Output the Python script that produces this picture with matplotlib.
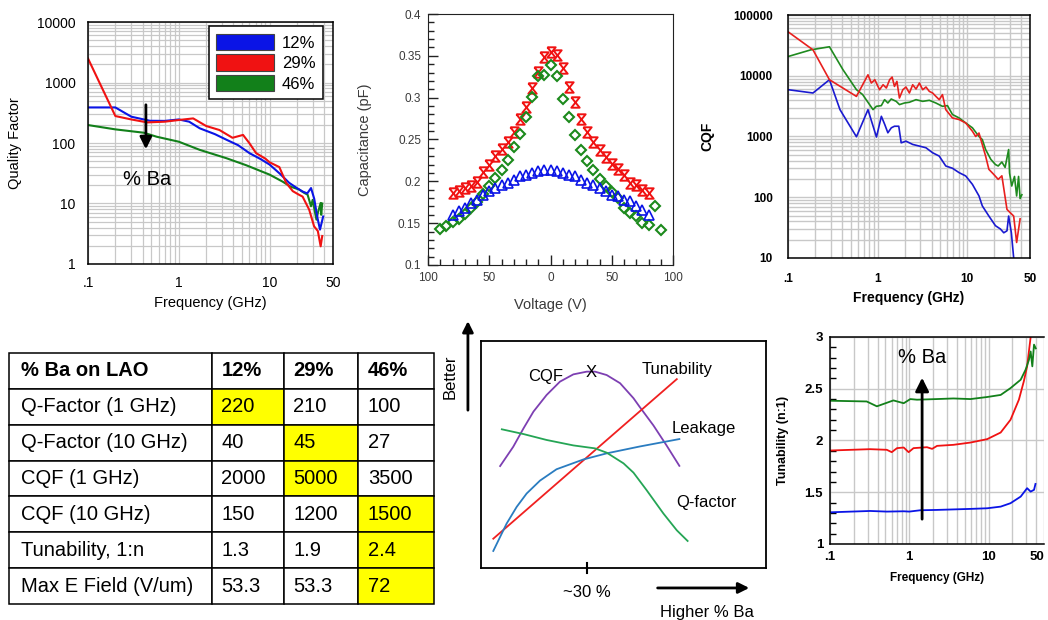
import matplotlib
matplotlib.use('Agg')
import matplotlib.pyplot as plt
import matplotlib.transforms as mtransforms
import numpy as np
from matplotlib.patches import Patch
from matplotlib.ticker import LogLocator, NullFormatter, MultipleLocator

plt.rcParams['font.family'] = ['Liberation Sans', 'DejaVu Sans']

BLUE = '#0a14e6'
RED = '#f01212'
GREEN = '#12801a'

# frequency axis used by the three log-log / semilog panels
freq_ticks = [0.1, 1, 10, 50]
freq_labels = ['.1', '1', '10', '50']
ba_labels = ['12%', '29%', '46%']

# Quality factor vs frequency
freq_q12 = [0.1, 0.2, 0.3, 0.48, 0.7, 1.0, 1.3, 1.7, 2.5, 3.4, 4.5, 6.0, 8.0, 10,
            13, 16.4, 20, 23, 26, 28.6, 31, 33.5, 35.9, 38.9]
q12 = [387, 387, 272, 233, 232, 245, 225, 175, 140, 112, 92, 68, 54, 44,
       31, 22, 18, 15.8, 14.7, 18, 12, 6, 3.7, 6.1]
freq_q29 = [0.1, 0.2, 0.3, 0.45, 0.7, 1.0, 1.44, 2.0, 2.8, 3.9, 5.1, 6.0, 7.1, 9.0,
            10, 12.8, 15.2, 18, 21, 23.1, 27.3, 30.9, 34, 36.5, 38]
q29 = [2490, 279, 245, 219, 225, 240, 255, 191, 164, 122, 136, 99, 68, 55,
       48, 40, 22, 16, 14, 13, 7.9, 4.2, 3.5, 1.96, 2.9]
freq_q46 = [0.1, 0.2, 0.41, 0.57, 1.0, 1.7, 3.35, 5.5, 10, 13.9, 17, 21.2, 24,
            26.2, 28.6, 29.8, 32.8, 34, 36.5, 37, 38]
q46 = [198, 168, 148, 127, 105, 77, 56, 43, 30, 23, 19, 17, 15,
       14, 9, 11.5, 5.4, 7, 10.2, 6.5, 10]

# C-V curves (voltage magnitude shown on both sides of zero)
volt_red = [-80, -75, -70, -65, -60, -55, -50, -45, -40, -35, -30, -25, -20, -15, -10, -5, 0,
            5, 10, 15, 20, 25, 30, 35, 40, 45, 50, 55, 60, 65, 70, 75, 80]
cap_red = [0.186, 0.188, 0.192, 0.195, 0.199, 0.211, 0.220, 0.230, 0.239, 0.247, 0.259,
           0.275, 0.289, 0.311, 0.331, 0.349, 0.354, 0.351, 0.335, 0.313, 0.295, 0.275,
           0.259, 0.247, 0.237, 0.229, 0.221, 0.215, 0.207, 0.198, 0.196, 0.190, 0.186]
volt_green = [-90, -85, -80, -75, -70, -65, -60, -55, -50, -45, -40, -35, -30, -25, -20,
              -15, -10, -5, 0, 5, 10, 15, 20, 25, 30, 35, 40, 45, 50, 55, 60, 65, 70,
              75, 80, 85, 90]
cap_green = [0.143, 0.147, 0.151, 0.155, 0.161, 0.168, 0.175, 0.185, 0.194, 0.204, 0.214,
             0.225, 0.241, 0.257, 0.277, 0.301, 0.326, 0.327, 0.339, 0.326, 0.299, 0.277,
             0.255, 0.237, 0.224, 0.214, 0.203, 0.195, 0.187, 0.180, 0.168, 0.162, 0.158,
             0.150, 0.148, 0.170, 0.142]
volt_blue = volt_red
cap_blue = [0.160, 0.164, 0.168, 0.174, 0.178, 0.184, 0.188, 0.192, 0.196, 0.198, 0.202,
            0.206, 0.208, 0.210, 0.212, 0.213, 0.213, 0.212, 0.210, 0.208, 0.206, 0.202,
            0.198, 0.196, 0.192, 0.188, 0.184, 0.182, 0.178, 0.176, 0.170, 0.166, 0.160]

# CQF vs frequency
freq_c12 = [0.1, 0.19, 0.29, 0.38, 0.58, 0.78, 0.97, 1.1, 1.2, 1.3, 1.42, 1.54, 1.72,
            1.83, 2.07, 2.46, 2.92, 3.46, 4.1, 4.86, 5.75, 6.83, 8.1, 9.6, 11.4, 13.5,
            14.7, 17.4, 20.6, 23.4, 25.5, 27.7, 28.9, 31.0, 32.9]
cqf12 = [5900, 5200, 8600, 2770, 990, 2760, 980, 2150, 1575, 1150, 1390, 1475, 1475,
         787, 838, 740, 695, 652, 540, 476, 327, 300, 254, 224, 163, 105,
         72, 49, 34, 30, 26, 28, 49, 26, 10]
freq_c29 = [0.1, 0.19, 0.29, 0.58, 0.78, 0.85, 0.93, 1.05, 1.15, 1.25, 1.36, 1.45, 1.54,
            1.64, 1.75, 1.91, 2.07, 2.26, 2.46, 2.68, 2.92, 3.18, 3.46, 3.77, 4.10, 4.46,
            4.86, 5.28, 5.75, 6.83, 8.1, 9.6, 11.4, 12.4, 13.5, 16.0, 17.4, 19.7, 22.1,
            24.3, 27.7, 30.0, 32.9, 35.5, 38.8]
cqf29 = [53000, 26700, 8600, 4570, 10370, 7590, 8600, 5890, 7110, 6280, 8600, 9510, 6680,
         8070, 4300, 5890, 6520, 5200, 7110, 6040, 7590, 5890, 6520, 5530, 5200, 4580,
         4040, 4890, 2770, 2020, 1900, 1670, 1220, 1000, 1140, 476, 288, 238, 197,
         225, 63, 56, 49, 18, 44]
freq_c46 = [0.1, 0.18, 0.29, 0.41, 0.58, 0.68, 0.888, 0.967, 1.098, 1.195, 1.30, 1.417,
            1.61, 1.752, 1.99, 2.26, 2.68, 3.18, 3.77, 4.46, 5.28, 6.01, 6.83, 8.1, 9.6,
            11.4, 13.5, 14.7, 16.0, 18.3, 20.6, 22.1, 24.3, 26.4, 28.9, 29.6, 31.3, 33.6,
            35.5, 37.3, 38.8, 40.6]
cqf46 = [20700, 26700, 30000, 12600, 5900, 4900, 2770, 3140, 3220, 4040, 3560, 4140,
         3790, 3350, 3560, 3660, 4040, 3790, 3940, 3560, 3140, 3220, 2300, 2020, 1670,
         1390, 1000, 890, 610, 420, 345, 327, 380, 310, 610, 250, 153, 220,
         105, 220, 95, 110]

# Tunability vs frequency
freq_t12 = [0.1, 0.32, 0.52, 0.85, 1.0, 1.38, 2.2, 5.9, 9.6, 14.2, 18.9, 25.4, 30.6,
            33.9, 37.4, 39]
tun12 = [1.306, 1.319, 1.313, 1.316, 1.313, 1.326, 1.329, 1.339, 1.345, 1.361, 1.394,
         1.458, 1.539, 1.506, 1.523, 1.58]
freq_t29 = [0.1, 0.32, 0.52, 0.6, 0.7, 0.85, 0.98, 1.13, 1.67, 1.94, 2.24, 3.6, 5.9,
            9.6, 14.2, 18.9, 24.1, 27.8, 30.6, 33.2, 34.5]
tun29 = [1.903, 1.916, 1.91, 1.887, 1.926, 1.932, 1.887, 1.926, 1.935, 1.919, 1.948,
         1.958, 1.98, 2.013, 2.077, 2.2, 2.394, 2.571, 2.716, 2.94, 3.05]
freq_t46 = [0.1, 0.29, 0.39, 0.63, 0.85, 1.03, 1.25, 2.2, 3.6, 5.9, 9.6, 14.2, 18.9,
            25.4, 29.3, 32.3, 33.9, 35.6, 37.4, 39.3]
tun46 = [2.384, 2.377, 2.33, 2.387, 2.36, 2.40, 2.394, 2.40, 2.406, 2.40, 2.42, 2.44,
         2.506, 2.587, 2.684, 2.78, 2.86, 2.716, 2.926, 2.89]

# summary table
table_header = ['% Ba on LAO', '12%', '29%', '46%']
table_rows = ['Q-Factor (1 GHz)', 'Q-Factor (10 GHz)', 'CQF (1 GHz)', 'CQF (10 GHz)',
              'Tunability, 1:n', 'Max E Field (V/um)']
table_values = [['220', '210', '100'],
                ['40', '45', '27'],
                ['2000', '5000', '3500'],
                ['150', '1200', '1500'],
                ['1.3', '1.9', '2.4'],
                ['53.3', '53.3', '72']]
best_cells = [(1, 1), (2, 2), (3, 2), (4, 3), (5, 3), (6, 3)]

# trade-off sketch (relative units)
cqf_x = [0.067, 0.113, 0.149, 0.184, 0.230, 0.277, 0.324, 0.371, 0.400, 0.441, 0.488,
         0.535, 0.556, 0.605, 0.651, 0.696]
cqf_y = [0.449, 0.534, 0.615, 0.689, 0.762, 0.821, 0.853, 0.865, 0.865, 0.850, 0.814,
         0.748, 0.711, 0.628, 0.540, 0.450]
tun_x = [0.043, 0.687]
tun_y = [0.129, 0.832]
leak_x = [0.043, 0.067, 0.090, 0.125, 0.160, 0.207, 0.265, 0.359, 0.441, 0.556, 0.696]
leak_y = [0.075, 0.137, 0.196, 0.269, 0.328, 0.385, 0.435, 0.478, 0.505, 0.535, 0.568]
qf_x = [0.073, 0.149, 0.230, 0.324, 0.400, 0.441, 0.500, 0.535, 0.581, 0.640, 0.687, 0.725]
qf_y = [0.611, 0.590, 0.564, 0.540, 0.527, 0.508, 0.461, 0.420, 0.343, 0.240, 0.166, 0.119]
optimum_x = 0.372
peak_mark = (0.386, 0.862)

fig = plt.figure(figsize=(10.48, 6.2), dpi=100)


def freq_axes(rect, ylim, yticks, ylabels, bold):
    ax = fig.add_axes(rect)
    ax.set_xscale('log')
    ax.set_yscale('log')
    ax.set_xlim(0.1, 50)
    ax.set_ylim(*ylim)
    weight = 'bold' if bold else 'normal'
    ax.set_xticks(freq_ticks, freq_labels, fontweight=weight)
    ax.set_yticks(yticks, ylabels, fontweight=weight)
    for axis in (ax.xaxis, ax.yaxis):
        axis.set_minor_locator(LogLocator(subs=np.arange(2, 10), numticks=12))
        axis.set_minor_formatter(NullFormatter())
    for s in ax.spines.values():
        s.set_linewidth(1.1)
    return ax


# ---- Quality factor panel
ax1 = freq_axes([0.0840, 0.5742, 0.2338, 0.3903], (1, 10000),
                [1, 10, 100, 1000, 10000], ['1', '10', '100', '1000', '10000'], False)
ax1.grid(which='both', color='#c8c8c8', lw=0.9)
ax1.tick_params(which='both', length=0, labelsize=10, pad=9)
ax1.plot(freq_q46, q46, color=GREEN, lw=1.5)
ax1.plot(freq_q12, q12, color=BLUE, lw=1.5)
ax1.plot(freq_q29, q29, color=RED, lw=1.5)
ax1.set_xlabel('Frequency (GHz)', fontsize=10.5, va='center')
ax1.set_ylabel('Quality Factor', fontsize=10.5, va='center')
ax1.xaxis.set_label_coords(0.5, -0.161)
ax1.yaxis.set_label_coords(-0.298, 0.5)
handles = [Patch(facecolor=c, edgecolor='#444444', lw=0.8) for c in (BLUE, RED, GREEN)]
leg = ax1.legend(handles, ba_labels, loc='upper right', bbox_to_anchor=(0.959, 0.983),
                 borderaxespad=0, fontsize=12, handlelength=3.5, handleheight=1.15,
                 labelspacing=0.22, handletextpad=0.45, borderpad=0.45, fancybox=False,
                 framealpha=1)
leg.get_frame().set_edgecolor('black')
leg.get_frame().set_linewidth(1.1)
ax1.annotate('', xy=(0.434, 71), xytext=(0.434, 476),
             arrowprops=dict(arrowstyle='-|>', color='black', lw=2, mutation_scale=18))
ax1.text(0.445, 24.5, '% Ba', fontsize=14.5, ha='center', va='center')

# ---- Capacitance vs voltage panel
ink = '#3a3a3a'
ax2 = fig.add_axes([0.4084, 0.5726, 0.2338, 0.4048])
hourglass = [(-0.8, 1), (0.8, 1), (-0.8, -1), (0.8, -1), (-0.8, 1)]
ax2.plot(volt_red, cap_red, ls='none', marker=hourglass, ms=7.5, mfc='none', mec=RED, mew=1.4)
ax2.plot(volt_green, cap_green, ls='none', marker='D', ms=5, mfc='none', mec='#1c8a1c', mew=1.5)
ax2.plot(volt_blue, cap_blue, ls='none', marker='^', ms=7, mfc='none', mec=BLUE, mew=1.2)
ax2.set_xlim(-100, 100)
ax2.set_ylim(0.1, 0.4)
ax2.set_xticks([-100, -50, 0, 50, 100], ['100', '50', '0', '50', '100'])
ax2.set_yticks([0.1, 0.15, 0.2, 0.25, 0.3, 0.35, 0.4],
               ['0.1', '0.15', '0.2', '0.25', '0.3', '0.35', '0.4'])
ax2.xaxis.set_minor_locator(MultipleLocator(10))
ax2.yaxis.set_minor_locator(MultipleLocator(0.01))
ax2.tick_params(which='both', direction='in', top=False, right=False, colors='#222222',
                labelcolor=ink, labelsize=8.5, pad=5)
ax2.tick_params(which='major', length=7, width=1)
ax2.tick_params(which='minor', length=4.5, width=1)
ax2.set_xlabel('Voltage (V)', fontsize=10.5, color=ink, va='center')
ax2.set_ylabel('Capacitance (pF)', fontsize=10.5, color=ink, va='center')
ax2.xaxis.set_label_coords(0.5, -0.159)
ax2.yaxis.set_label_coords(-0.257, 0.5)
for s in ax2.spines.values():
    s.set_color('#222222')

# ---- CQF panel
ax3 = freq_axes([0.7519, 0.5839, 0.2309, 0.3919], (10, 100000),
                [10, 100, 1000, 10000, 100000],
                ['10', '100', '1000', '10000', '100000'], True)
ax3.grid(which='both', color='#c8c8c8', lw=1.0)
ax3.tick_params(which='both', length=0, labelsize=8.5, pad=11)
ax3.plot(freq_c12, cqf12, color='#1a1ad0', lw=1.2)
ax3.plot(freq_c46, cqf46, color='#1f8a1f', lw=1.2)
ax3.plot(freq_c29, cqf29, color='#e8201e', lw=1.2)
ax3.set_xlabel('Frequency (GHz)', fontsize=10, fontweight='bold', va='center')
ax3.set_ylabel('CQF', fontsize=10, fontweight='bold', va='center')
ax3.xaxis.set_label_coords(0.5, -0.165)
ax3.yaxis.set_label_coords(-0.335, 0.5)

# ---- Table
ax4 = fig.add_axes([0.0086, 0.0258, 0.4055, 0.4048])
ax4.axis('off')
cells = [table_header] + [[name] + vals for name, vals in zip(table_rows, table_values)]
tbl = ax4.table(cellText=cells, cellLoc='left', colWidths=[0.478, 0.168, 0.175, 0.179],
                bbox=[0, 0, 1, 1])
tbl.auto_set_font_size(False)
for (r, c), cell in tbl.get_celld().items():
    cell.set_linewidth(1.1)
    cell.PAD = 0.06 if c == 0 else 0.13
    txt = cell.get_text()
    txt.set_fontsize(14.5)
    if r == 0:
        txt.set_fontweight('bold')
    if (r, c) in best_cells:
        cell.set_facecolor('#ffff00')

# ---- Trade-off sketch
ax5 = fig.add_axes([0.4590, 0.0839, 0.2719, 0.3661])
ax5.set_xlim(0, 1)
ax5.set_ylim(0, 1)
ax5.set_xticks([])
ax5.set_yticks([])
for s in ax5.spines.values():
    s.set_linewidth(1.3)
ax5.plot(cqf_x, cqf_y, color='#7d3fb2', lw=1.3)
ax5.plot(tun_x, tun_y, color='#f02020', lw=1.3)
ax5.plot(leak_x, leak_y, color='#2a7cc0', lw=1.3)
ax5.plot(qf_x, qf_y, color='#25a555', lw=1.3)
ax5.text(*peak_mark, 'X', fontsize=12, ha='center', va='center')
ax5.text(0.228, 0.843, 'CQF', fontsize=12, ha='center', va='center')
ax5.text(0.689, 0.875, 'Tunability', fontsize=12, ha='center', va='center')
ax5.text(0.78, 0.615, 'Leakage', fontsize=12, ha='center', va='center')
ax5.text(0.79, 0.287, 'Q-factor', fontsize=12, ha='center', va='center')
ax5.plot([optimum_x, optimum_x], [-0.022, 0.022], color='black', lw=1.5, clip_on=False)
ax5.text(optimum_x, -0.11, '~30 %', fontsize=12, ha='center', va='center')
ax5.annotate('', xy=(-0.046, 1.10), xytext=(-0.046, 0.683), annotation_clip=False,
             arrowprops=dict(arrowstyle='-|>', color='black', lw=2, mutation_scale=16))
ax5.text(-0.109, 0.841, 'Better', fontsize=12, rotation=90, ha='center', va='center')
ax5.annotate('', xy=(0.951, -0.088), xytext=(0.61, -0.088), annotation_clip=False,
             arrowprops=dict(arrowstyle='-|>', color='black', lw=2, mutation_scale=16))
ax5.text(0.793, -0.194, 'Higher % Ba', fontsize=12, ha='center', va='center')

# ---- Tunability panel
ax6 = fig.add_axes([0.7920, 0.1226, 0.2042, 0.3339])
ax6.set_xscale('log')
ax6.set_xlim(0.1, 50)
ax6.set_ylim(1, 3)
ax6.set_xticks(freq_ticks, freq_labels, fontweight='bold')
ax6.set_yticks([1, 1.5, 2, 2.5, 3], ['1', '1.5', '2', '2.5', '3'], fontweight='bold')
ax6.xaxis.set_minor_locator(LogLocator(subs=np.arange(2, 10), numticks=12))
ax6.xaxis.set_minor_formatter(NullFormatter())
ax6.yaxis.set_minor_locator(MultipleLocator(0.1))
ax6.xaxis.grid(True, which='both', color='#c8c8c8', lw=1.0)
ax6.yaxis.grid(True, which='major', color='#c8c8c8', lw=1.0)
ax6.tick_params(which='both', length=0, labelsize=9.5, pad=5)
ax6.tick_params(axis='y', which='minor', direction='in', length=4, width=1, left=True)
ax6.spines['right'].set_visible(False)
for s in ('left', 'bottom', 'top'):
    ax6.spines[s].set_linewidth(1.1)
ax6.plot(freq_t12, tun12, color=BLUE, lw=1.3)
ax6.plot(freq_t29, tun29, color=RED, lw=1.3)
ax6.plot(freq_t46, tun46, color=GREEN, lw=1.3)
ax6.annotate('', xy=(1.45, 2.633), xytext=(1.45, 1.213),
             arrowprops=dict(arrowstyle='-|>', color='black', lw=2, mutation_scale=20))
ax6.text(1.45, 2.797, '% Ba', fontsize=14.5, ha='center', va='center')
ax6.set_xlabel('Frequency (GHz)', fontsize=8.5, fontweight='bold', va='center')
ax6.set_ylabel('Tunability (n:1)', fontsize=9, fontweight='bold', va='center')
ax6.xaxis.set_label_coords(0.5, -0.164)
ax6.yaxis.set_label_coords(-0.22, 0.5)
# keep the last frequency label inside the page edge
last = ax6.get_xticklabels()[-1]
last.set_transform(last.get_transform() +
                   mtransforms.ScaledTranslation(-5 / 72, 0, fig.dpi_scale_trans))

fig.savefig('out.png', dpi=100)
